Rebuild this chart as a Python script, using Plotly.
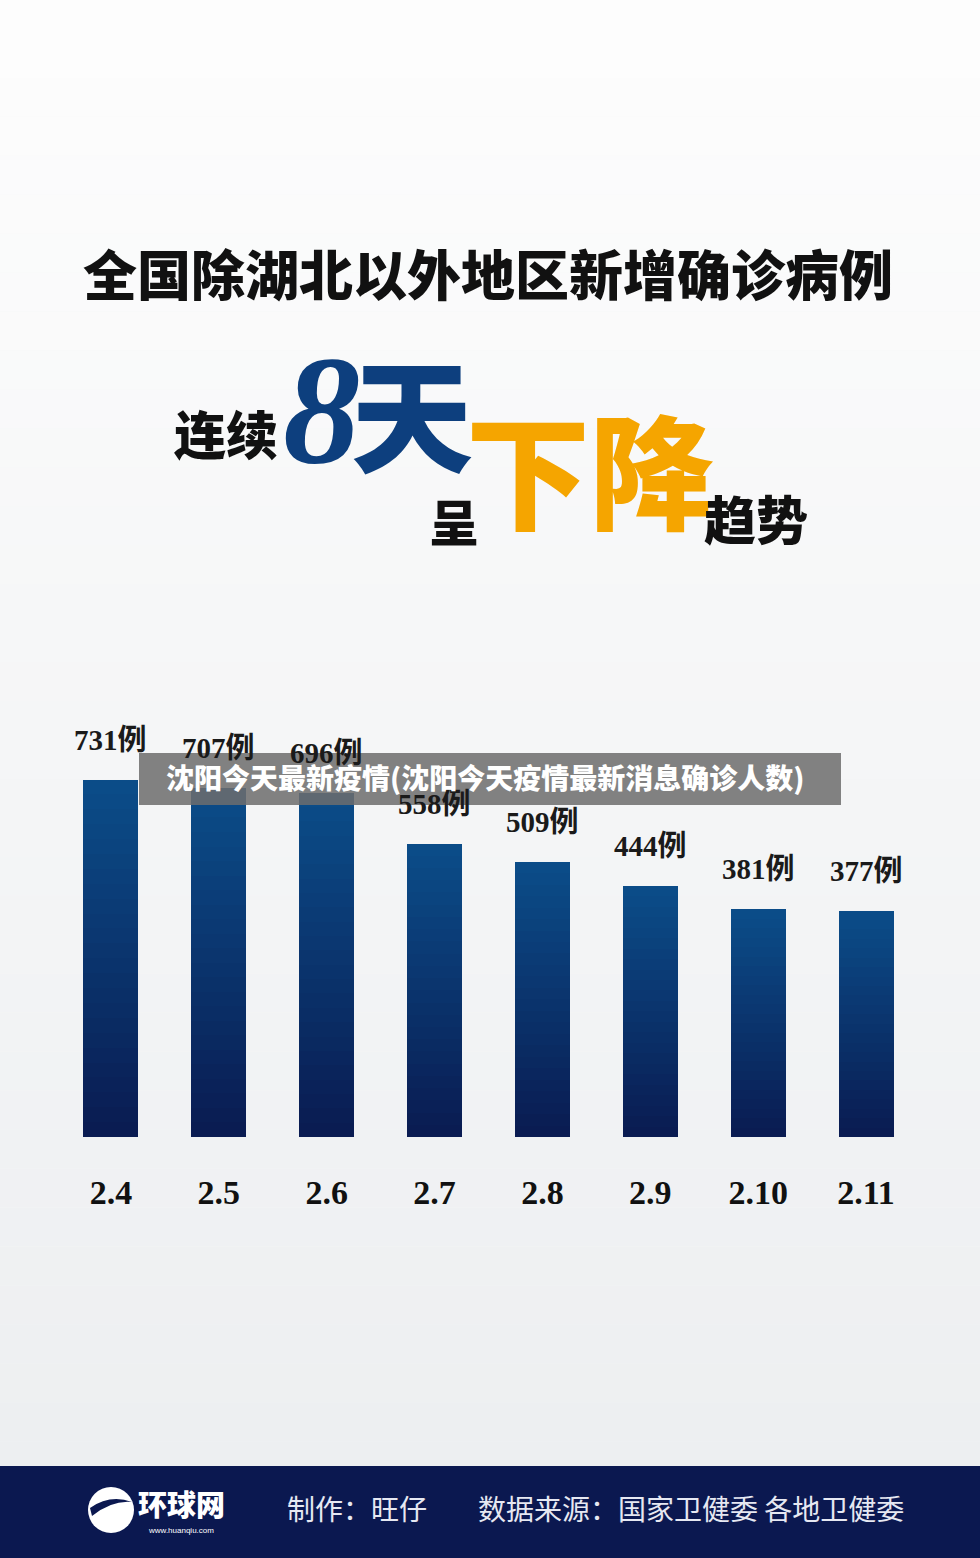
import plotly.graph_objects as go

# ---- data ----
dates = ["2.4", "2.5", "2.6", "2.7", "2.8", "2.9", "2.10", "2.11"]
cases = [731, 707, 696, 558, 509, 444, 381, 377]
value_labels = ["731例", "707例", "696例", "558例", "509例", "444例", "381例", "377例"]

W, H = 980, 1558
BASE = -235          # visual baseline of the infographic bars
Y_TOP = 946

def py(pix):  # pixel-from-top -> paper y
    return 1 - pix / H

def lerp(c1, c2, t):
    return "#%02x%02x%02x" % tuple(int(round(a + (b - a) * t)) for a, b in zip(c1, c2))

top_col = (0x0b, 0x4c, 0x88)
bot_col = (0x0a, 0x1c, 0x52)

fig = go.Figure()
N = 24
xs = list(range(len(dates)))
for k in range(N):
    frac = 1 - k / N
    col = lerp(top_col, bot_col, k / (N - 1))
    fig.add_trace(go.Bar(
        x=xs, y=[(v - BASE) * frac for v in cases], base=BASE,
        marker=dict(color=col, line=dict(width=0)), width=0.51,
        hoverinfo="skip", showlegend=False))

shapes = []
# background gradient strips
S = 40
for i in range(S):
    t = i / (S - 1)
    shapes.append(dict(type="rect", xref="paper", yref="paper", x0=0, x1=1,
                       y0=1 - (i + 1) / S, y1=1 - i / S, layer="below",
                       fillcolor=lerp((0xfd, 0xfd, 0xfd), (0xec, 0xee, 0xf0), t),
                       line=dict(width=0)))
# footer band
shapes.append(dict(type="rect", xref="paper", yref="paper", x0=0, x1=1,
                   y0=0, y1=py(1466), fillcolor="#0b1850", line=dict(width=0), layer="above"))
# logo circle
shapes.append(dict(type="circle", xref="paper", yref="paper",
                   x0=(88) / W, x1=(134) / W, y0=py(1533), y1=py(1487),
                   fillcolor="white", line=dict(width=0), layer="above"))
shapes.append(dict(type="path", xref="paper", yref="paper", layer="above",
                   path="M %f %f Q %f %f %f %f Q %f %f %f %f Z" % (
                       90 / W, py(1508), 110 / W, py(1494), 132 / W, py(1502),
                       112 / W, py(1500), 92 / W, py(1516)),
                   fillcolor="#0b1850", line=dict(width=0)))
# overlay banner
shapes.append(dict(type="rect", xref="paper", yref="paper", x0=139 / W, x1=841 / W,
                   y0=py(805), y1=py(753), fillcolor="rgba(110,110,110,0.86)",
                   line=dict(width=0), layer="above"))

CJK_B = "Noto Sans CJK SC"
SERIF = "Liberation Serif, Noto Sans CJK SC"

ann = []
for i, (v, lab) in enumerate(zip(cases, value_labels)):
    ann.append(dict(x=i, y=v, xref="x", yref="y", text=lab, showarrow=False,
                    yshift=40, font=dict(family=SERIF, size=29, color="#1a1a1a", weight="bold")))

def txt(x, y, s, size, color, family=CJK_B, weight="bold", italic=False):
    ann.append(dict(x=x / W, y=py(y), xref="paper", yref="paper", text=s, showarrow=False,
                    xanchor="center", yanchor="middle",
                    font=dict(family=family, size=size, color=color, weight=weight,
                              style="italic" if italic else "normal")))

txt(488, 272, "全国除湖北以外地区新增确诊病例", 54, "#111111", weight=900)
txt(226, 432, "连续", 52, "#111111", weight=900)
txt(322, 410, "8", 155, "#0d3f7e", family="Liberation Serif", italic=True)
txt(412, 410, "天", 122, "#0d3f7e", weight=900)
txt(590, 466, "下降", 124, "#f5a500", weight=900)
txt(454, 520, "呈", 50, "#111111", weight=900)
txt(756, 517, "趋势", 52, "#111111", weight=900)
txt(485, 777, "沈阳今天最新疫情(沈阳今天疫情最新消息确诊人数)", 28, "white", weight=900)
txt(181, 1503, "环球网", 29, "white", weight=900)
txt(181, 1530, "www.huanqiu.com", 8, "white", family="Liberation Sans", weight="normal")
txt(357, 1508, "制作：旺仔", 28, "#e6e8f2", weight="normal")
txt(691, 1508, "数据来源：国家卫健委 各地卫健委", 28, "#e6e8f2", weight="normal")

fig.update_layout(
    width=W, height=H, margin=dict(l=0, r=0, t=0, b=0),
    paper_bgcolor="#f5f6f7", plot_bgcolor="rgba(0,0,0,0)",
    barmode="overlay", bargap=0,
    shapes=shapes, annotations=ann,
    xaxis=dict(domain=[57 / W, 920 / W], range=[-0.5, 7.5], tickmode="array",
               tickvals=xs, ticktext=dates, showgrid=False, zeroline=False,
               showline=False, ticks="", ticklabelstandoff=32,
               tickfont=dict(family="Liberation Serif", size=34, color="#111111", weight="bold")),
    yaxis=dict(domain=[py(1137), py(700)], range=[BASE, Y_TOP], visible=False,
               showgrid=False, zeroline=False),
)

fig.write_html("out.html")
